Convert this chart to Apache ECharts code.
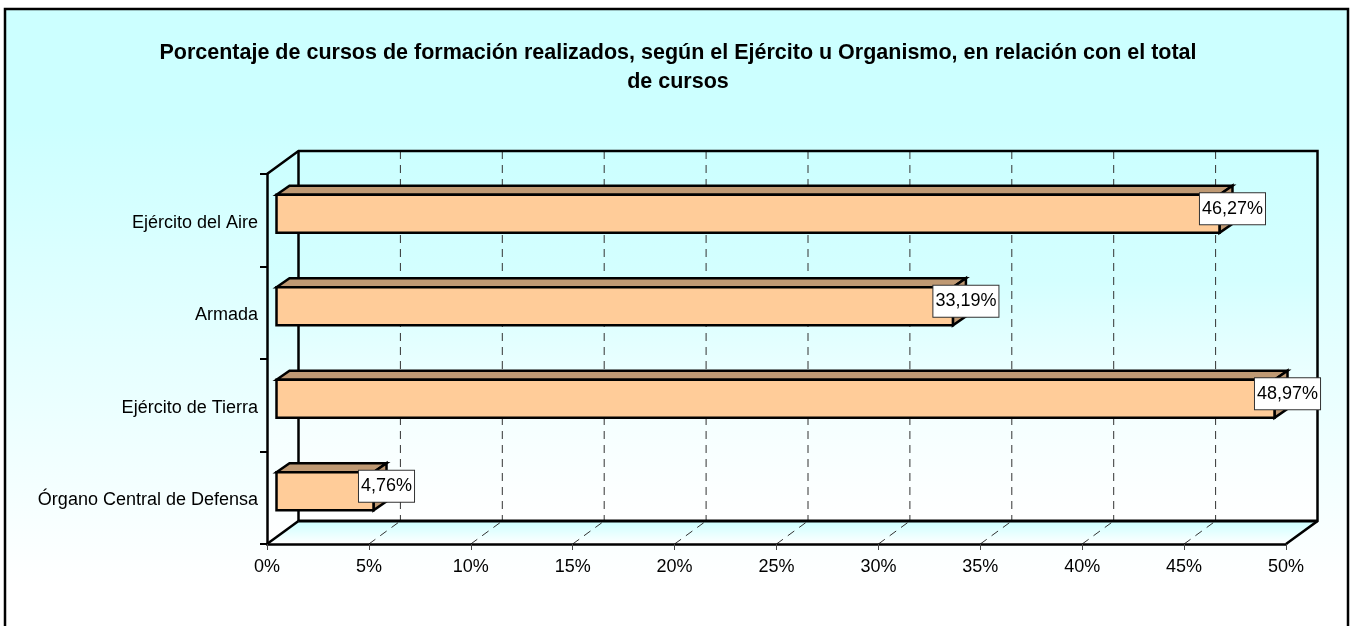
<!DOCTYPE html>
<html><head><meta charset="utf-8">
<style>html,body{margin:0;padding:0;background:#fff}#c{width:1350px;height:626px}</style>
<script src="https://cdn.jsdelivr.net/npm/echarts@6/dist/echarts.min.js"></script>
</head><body><div id="c"></div>
<script>
const titleText = 'Porcentaje de cursos de formación realizados, según el Ejército u Organismo, en relación con el total\nde cursos';
const categories = ['Órgano Central de Defensa', 'Ejército de Tierra', 'Armada', 'Ejército del Aire'];
const values = [4.76, 48.97, 33.19, 46.27];
const valueLabels = ['4,76%', '48,97%', '33,19%', '46,27%'];
const gridTicks = [0, 5, 10, 15, 20, 25, 30, 35, 40, 45, 50];

const FONT = '"Liberation Sans", Arial, sans-serif';
// perspective of the 3D box
const depth = {x: 31.5, y: -23};
const barFront = {x: 9.5, y: -6.5};
const barDepth = {x: 13, y: -9};
const barThickness = 38 / 92.5;
const line = {stroke: '#000', lineWidth: 2.5, fill: null};

function wallGrad(stops) {
  return {type: 'linear', x: 0, y: 0, x2: 0, y2: 1, colorStops: stops};
}

function renderFrame(params, api) {
  const r = params.coordSys;
  const x0 = r.x, x1 = r.x + r.width, y0 = r.y, y1 = r.y + r.height;
  const d = depth;
  const wall = wallGrad([{offset: 0, color: '#ccffff'}, {offset: 0.35, color: '#d4ffff'}, {offset: 0.7, color: '#f4ffff'}, {offset: 1, color: '#ffffff'}]);
  const floor = wallGrad([{offset: 0, color: '#ccffff'}, {offset: 1, color: '#ffffff'}]);
  const kids = [
    {type: 'polygon', shape: {points: [[x0 + d.x, y0 + d.y], [x1 + d.x, y0 + d.y], [x1 + d.x, y1 + d.y], [x0 + d.x, y1 + d.y]]}, style: {fill: wall}},
    {type: 'polygon', shape: {points: [[x0, y0], [x0 + d.x, y0 + d.y], [x0 + d.x, y1 + d.y], [x0, y1]]}, style: {fill: wall}},
    {type: 'polygon', shape: {points: [[x0, y1], [x1, y1], [x1 + d.x, y1 + d.y], [x0 + d.x, y1 + d.y]]}, style: {fill: floor}}
  ];
  gridTicks.slice(1, -1).forEach(function (t) {
    const x = api.coord([t, 0])[0];
    kids.push({type: 'line', shape: {x1: x + d.x, y1: y0 + d.y, x2: x + d.x, y2: y1 + d.y}, style: {stroke: '#333', lineWidth: 1, lineDash: [8, 6]}});
    kids.push({type: 'line', shape: {x1: x, y1: y1, x2: x + d.x, y2: y1 + d.y}, style: {stroke: '#333', lineWidth: 1, lineDash: [8, 6]}});
  });
  kids.push(
    {type: 'polyline', shape: {points: [[x0, y0], [x0 + d.x, y0 + d.y], [x1 + d.x, y0 + d.y], [x1 + d.x, y1 + d.y], [x1, y1]]}, style: line},
    {type: 'line', shape: {x1: x0 + d.x, y1: y0 + d.y, x2: x0 + d.x, y2: y1 + d.y}, style: line},
    {type: 'line', shape: {x1: x0 + d.x, y1: y1 + d.y, x2: x1 + d.x, y2: y1 + d.y}, style: {stroke: '#000', lineWidth: 3}},
    {type: 'line', shape: {x1: x0, y1: y1, x2: x0 + d.x, y2: y1 + d.y}, style: line}
  );
  return {type: 'group', children: kids};
}

function renderBar(params, api) {
  const idx = api.value(0), val = api.value(1);
  const base = api.coord([0, idx]), end = api.coord([val, idx]);
  const h = api.size([0, 1])[1] * barThickness;
  const L = base[0] + barFront.x, R = end[0] + barFront.x;
  const T = base[1] + barFront.y - h / 2, B = T + h;
  const dx = barDepth.x, dy = barDepth.y;
  const edge = {stroke: '#000', lineWidth: 2.5, lineJoin: 'miter'};
  return {type: 'group', children: [
    {type: 'polygon', shape: {points: [[L, T], [L + dx, T + dy], [R + dx, T + dy], [R, T]]}, style: Object.assign({fill: '#bf9973'}, edge)},
    {type: 'polygon', shape: {points: [[R, T], [R + dx, T + dy], [R + dx, B + dy], [R, B]]}, style: Object.assign({fill: '#bf9973'}, edge)},
    {type: 'rect', shape: {x: L, y: T, width: R - L, height: h}, style: Object.assign({fill: '#ffcc99'}, edge)}
  ]};
}

function renderLabel(params, api) {
  const idx = api.value(0), val = api.value(1);
  const end = api.coord([val, idx]);
  const x = end[0] + barFront.x + barDepth.x;
  const y = end[1] + barFront.y + barDepth.y / 2 - 0.5;
  return {type: 'text', x: x, y: y, style: {
    text: valueLabels[idx], font: '18px ' + FONT, fill: '#000', align: 'center', verticalAlign: 'middle',
    backgroundColor: '#fff', borderColor: '#333', borderWidth: 1, padding: [7, 2, 6, 2]
  }};
}

const seriesData = values.map(function (v, i) { return [i, v]; });

const chart = echarts.init(document.getElementById('c'), null, {renderer: 'canvas', width: 1350, height: 626});
chart.setOption({
  animation: false,
  backgroundColor: '#fff',
  textStyle: {fontFamily: FONT},
  graphic: [{
    type: 'rect', z: -10, silent: true,
    shape: {x: 5, y: 9, width: 1343, height: 640},
    style: {
      fill: {type: 'linear', x: 0, y: 0, x2: 0, y2: 1, colorStops: [
        {offset: 0, color: '#ccffff'}, {offset: 0.18, color: '#ccffff'}, {offset: 0.9, color: '#ffffff'}, {offset: 1, color: '#ffffff'}]},
      stroke: '#000', lineWidth: 2.5
    }
  }],
  title: {
    text: titleText, left: 673, top: 33.5, textAlign: 'center',
    textStyle: {fontFamily: FONT, fontSize: 21.5, fontWeight: 'bold', color: '#000', lineHeight: 29}
  },
  grid: {left: 267, top: 174, width: 1019, height: 370, containLabel: false},
  xAxis: {
    type: 'value', min: 0, max: 50, interval: 5, z: 6,
    axisLine: {show: true, lineStyle: {color: '#000', width: 2.5}},
    axisTick: {show: true, length: 6, lineStyle: {color: '#444', width: 1}},
    splitLine: {show: false},
    axisLabel: {formatter: '{value}%', color: '#000', fontFamily: FONT, fontSize: 18, margin: 14}
  },
  yAxis: {
    type: 'category', data: categories, z: 6,
    axisLine: {show: true, lineStyle: {color: '#000', width: 2.5}},
    axisTick: {show: true, length: 7, lineStyle: {color: '#000', width: 2}},
    axisLabel: {color: '#000', fontFamily: FONT, fontSize: 18, margin: 9, verticalAlign: 'top', lineHeight: 5}
  },
  series: [
    {type: 'custom', name: 'Frame', coordinateSystem: 'cartesian2d', z: 1, silent: true, data: [[0, 0]], encode: {x: 1, y: 0}, renderItem: renderFrame, clip: false},
    {type: 'custom', name: 'Cursos', coordinateSystem: 'cartesian2d', z: 3, data: seriesData, encode: {x: 1, y: 0}, renderItem: renderBar, clip: false},
    {type: 'custom', name: 'Etiquetas', coordinateSystem: 'cartesian2d', z: 4, data: seriesData, encode: {x: 1, y: 0}, renderItem: renderLabel, clip: false}
  ]
});
</script></body></html>
